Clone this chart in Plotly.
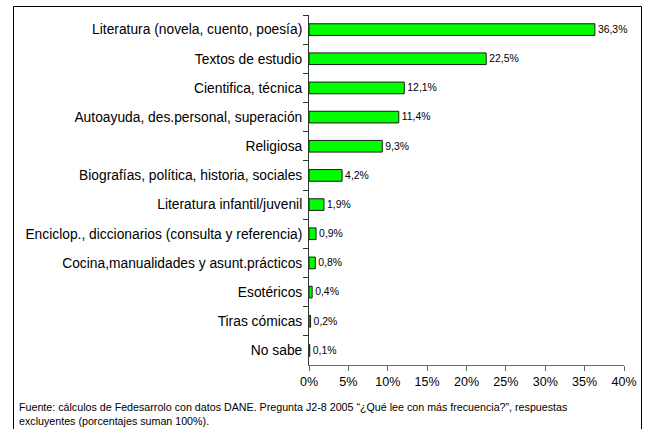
import plotly.graph_objects as go

categories = [
    "Literatura (novela, cuento, poesía)",
    "Textos de estudio",
    "Cientifica, técnica",
    "Autoayuda, des.personal, superación",
    "Religiosa",
    "Biografías, política, historia, sociales",
    "Literatura infantil/juvenil",
    "Enciclop., diccionarios (consulta y referencia)",
    "Cocina,manualidades y asunt.prácticos",
    "Esotéricos",
    "Tiras cómicas",
    "No sabe",
]
values = [36.3, 22.5, 12.1, 11.4, 9.3, 4.2, 1.9, 0.9, 0.8, 0.4, 0.2, 0.1]
x_ticks = [0, 5, 10, 15, 20, 25, 30, 35, 40]
x_tick_labels = ["0%", "5%", "10%", "15%", "20%", "25%", "30%", "35%", "40%"]
footnote = ("Fuente: cálculos de Fedesarrolo con datos DANE. Pregunta J2-8 2005 “¿Qué lee con más frecuencia?”, respuestas"
            "<br>excluyentes (porcentajes suman 100%).")

W, H = 647, 429
L, R, T, B = 309, 23, 15, 64
pw, ph = W - L - R, H - T - B

def px(x):
    return (x - L) / pw

def py(y):
    return (H - B - y) / ph

fig = go.Figure(go.Bar(
    x=values, y=categories, orientation="h",
    marker=dict(color="#00FF00", line=dict(color="#1a1a1a", width=1)),
    width=0.4,
    text=values, texttemplate="%{x:.1f}%", textposition="outside",
    textfont=dict(family="Arial, Liberation Sans", size=12.5, color="black"),
    cliponaxis=False,
))

axis_col = "#5a735a"
fig.update_layout(
    template="none",
    width=W, height=H,
    margin=dict(l=L, r=R, t=T, b=B, autoexpand=False),
    paper_bgcolor="white", plot_bgcolor="white",
    separators=",.",
    showlegend=False,
    font=dict(family="Arial, Liberation Sans", size=12, color="black"),
    xaxis=dict(range=[0, 40], tickmode="array", tickvals=x_ticks, ticktext=x_tick_labels,
               showgrid=False, zeroline=False, showline=True, linecolor=axis_col, linewidth=1,
               ticks="outside", ticklen=5, tickcolor=axis_col, automargin=False,
               tickfont=dict(size=12.5), fixedrange=True),
    yaxis=dict(autorange="reversed", showgrid=False, zeroline=False,
               showline=True, linecolor="#2a3a2a", linewidth=1, automargin=False,
               ticks="outside", ticklen=5, tickcolor="#2a3a2a", tickson="boundaries",
               ticklabelstandoff=3, tickfont=dict(size=13.8)),
    shapes=[dict(type="rect", xref="paper", yref="paper",
                 x0=px(13.5), x1=px(641.5), y0=py(432), y1=py(6.5),
                 line=dict(color="black", width=1), fillcolor="rgba(0,0,0,0)", layer="above")],
    annotations=[dict(text=footnote, xref="paper", yref="paper", x=px(17), y=py(399),
                      xanchor="left", yanchor="top", align="left", showarrow=False,
                      font=dict(size=10.7, color="black"))],
)

fig.write_html("out.html", config={"displayModeBar": False},
               post_script="document.body.style.margin='0';document.body.style.padding='0';")
